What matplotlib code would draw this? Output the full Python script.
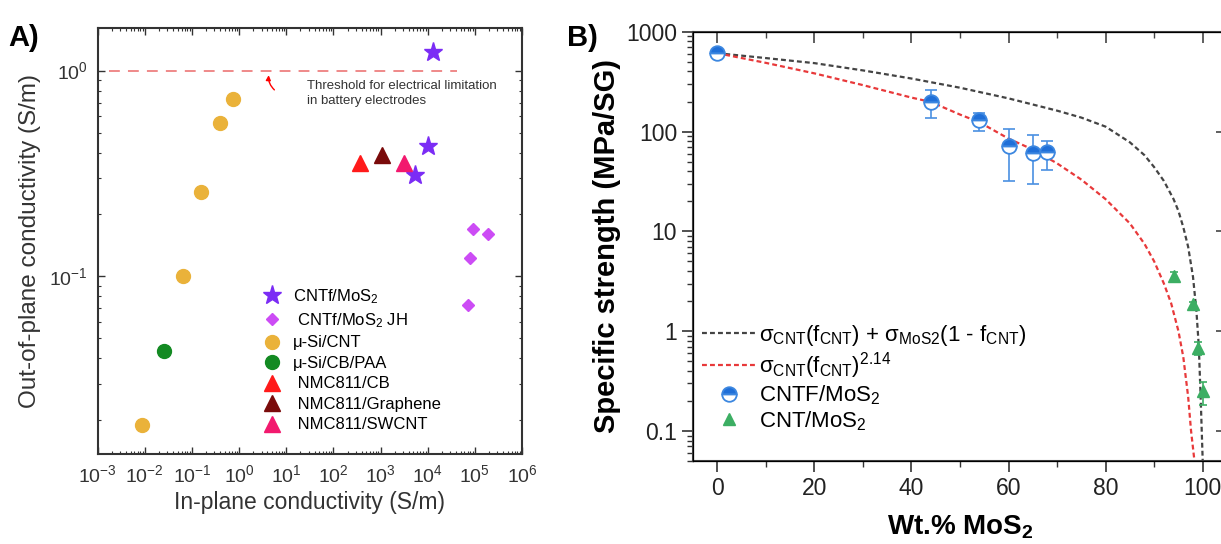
import matplotlib.pyplot as plt
from matplotlib.ticker import LogLocator, NullFormatter, MultipleLocator

plt.rcParams['font.family'] = 'Liberation Sans'
plt.rcParams['mathtext.fontset'] = 'custom'
plt.rcParams['mathtext.rm'] = 'Liberation Sans'
plt.rcParams['mathtext.it'] = 'Liberation Sans:italic'
plt.rcParams['mathtext.bf'] = 'Liberation Sans:bold'
plt.rcParams['mathtext.default'] = 'regular'

# ---- Panel A: conductividades ----
cntf_x = [1.3e4, 1.0e4, 5.5e3]
cntf_y = [1.23, 0.43, 0.31]
cntf_jh_x = [9.0e4, 1.9e5, 8.0e4, 7.0e4]
cntf_jh_y = [0.17, 0.16, 0.123, 0.073]
si_cnt_x = [0.0087, 0.066, 0.157, 0.39, 0.76]
si_cnt_y = [0.019, 0.10, 0.258, 0.555, 0.73]
si_cb_x = [0.025]
si_cb_y = [0.0435]
nmc_cb_x, nmc_cb_y = [370], [0.357]
nmc_gr_x, nmc_gr_y = [1070], [0.39]
nmc_sw_x, nmc_sw_y = [3090], [0.355]
threshold_x = [1.7e-3, 4.2e4]
threshold_y = [1.0, 1.0]

# ---- Panel B: resistencia especifica ----
rule_x = [0, 10, 20, 30, 40, 50, 60, 70, 75, 80, 85, 88, 90, 92, 94, 95, 96, 97, 98, 98.7, 99.2, 99.6, 99.8, 100]
rule_y = [610, 545, 485, 410, 340, 275, 215, 162, 138, 112, 78, 58, 44, 32, 21, 16, 11, 7, 3.5, 1.6, 0.7, 0.2, 0.1, 0.05]
power_x = [0, 10, 20, 30, 40, 44, 50, 54, 60, 65, 70, 75, 80, 85, 88, 90, 92, 93.5, 95, 96, 97, 97.6, 98.3]
power_y = [610, 488, 383, 292, 219, 198, 148, 124, 85, 66, 48, 33, 21, 12, 7.5, 5, 3, 1.9, 1.0, 0.55, 0.22, 0.1, 0.05]
cntf_mos2_x = [0, 44, 54, 60, 65, 68]
cntf_mos2_y = [610, 198, 130, 72, 61, 62]
cntf_mos2_lo = [0, 61, 28, 40, 31, 21]
cntf_mos2_hi = [0, 62, 25, 34, 31, 18]
cnt_mos2_x = [94, 98, 99, 100]
cnt_mos2_y = [3.6, 1.85, 0.68, 0.25]
cnt_mos2_lo = [0.3, 0.12, 0.1, 0.07]
cnt_mos2_hi = [0.3, 0.12, 0.1, 0.06]

fig = plt.figure(figsize=(12.21, 5.44), dpi=100)
axA = fig.add_axes([0.080, 0.1654, 0.3475, 0.783])
axB = fig.add_axes([0.5676, 0.1526, 0.4373, 0.789])

# Panel A
axA.plot(threshold_x, threshold_y, color='#EE8080', lw=1.3, dashes=(6, 4.5))
axA.plot(cntf_x, cntf_y, '*', color='#7B2CF5', ms=14, ls='none', label='CNTf/MoS$_2$')
axA.plot(cntf_jh_x, cntf_jh_y, 'D', color='#CC4CF5', ms=6.5, ls='none', label=' CNTf/MoS$_2$ JH')
axA.plot(si_cnt_x, si_cnt_y, 'o', color='#EAB23A', ms=10, ls='none', label='\u03bc-Si/CNT')
axA.plot(si_cb_x, si_cb_y, 'o', color='#138A22', ms=10, ls='none', label='\u03bc-Si/CB/PAA')
axA.plot(nmc_cb_x, nmc_cb_y, '^', color='#FF1A1A', ms=11, ls='none', label=' NMC811/CB')
axA.plot(nmc_gr_x, nmc_gr_y, '^', color='#7A0A0A', ms=11, ls='none', label=' NMC811/Graphene')
axA.plot(nmc_sw_x, nmc_sw_y, '^', color='#F2196E', ms=11, ls='none', label=' NMC811/SWCNT')

axA.annotate('', xy=(4.3, 0.98), xytext=(6.2, 0.79),
             arrowprops=dict(arrowstyle='-|>', color='red', lw=1.0,
                             mutation_scale=7, connectionstyle='arc3,rad=-0.3'))
axA.text(27, 0.905, 'Threshold for electrical limitation\nin battery electrodes',
         fontsize=9.5, color='#333333', va='top', linespacing=1.35)

axA.set_xscale('log')
axA.set_yscale('log')
axA.set_xlim(1e-3, 1e6)
axA.set_ylim(0.0137, 1.61)
axA.xaxis.set_major_locator(LogLocator(base=10, numticks=12))
axA.xaxis.set_minor_locator(LogLocator(base=10, subs=range(2, 10), numticks=12))
axA.xaxis.set_minor_formatter(NullFormatter())
axA.yaxis.set_minor_formatter(NullFormatter())
axA.tick_params(which='both', direction='in', top=True, right=True, colors='#333333')
axA.tick_params(which='major', length=5, width=1, labelsize=14, pad=7)
axA.tick_params(which='minor', length=2.5, width=0.8)
for s in axA.spines.values():
    s.set_linewidth(1.5)
    s.set_color('#333333')
axA.set_xlabel('In-plane conductivity (S/m)', fontsize=16.5, color='#333333', labelpad=4)
axA.set_ylabel('Out-of-plane conductivity (S/m)', fontsize=17.5, color='#333333', labelpad=6)
axA.legend(loc='lower left', bbox_to_anchor=(0.375, 0.035), frameon=False, fontsize=12,
           handlelength=1.0, handletextpad=0.75, labelspacing=0.33, borderaxespad=0)

# Panel B
axB.plot(rule_x, rule_y, color='#444444', lw=1.6, dashes=(2.2, 1.4),
         label='\u03c3$_{CNT}$(f$_{CNT}$) + \u03c3$_{MoS2}$(1 - f$_{CNT}$)')
axB.plot(power_x, power_y, color='#E8393A', lw=1.6, dashes=(2.2, 1.4),
         label='\u03c3$_{CNT}$(f$_{CNT}$)$^{2.14}$')
axB.errorbar(cntf_mos2_x, cntf_mos2_y, yerr=[cntf_mos2_lo, cntf_mos2_hi], fmt='none',
             ecolor='#4A90E2', elinewidth=1.2, capsize=4, capthick=1.2)
axB.errorbar(cnt_mos2_x, cnt_mos2_y, yerr=[cnt_mos2_lo, cnt_mos2_hi], fmt='none',
             ecolor='#3CAE63', elinewidth=1.2, capsize=3, capthick=1.2)
axB.plot(cntf_mos2_x, cntf_mos2_y, 'o', ls='none', ms=10.5, fillstyle='top',
         markerfacecolor='#1F6FD8', markerfacecoloralt='white', markeredgecolor='#3C87E0',
         markeredgewidth=1.3, label='CNTF/MoS$_2$')
axB.plot(cnt_mos2_x, cnt_mos2_y, '^', ls='none', ms=8, color='#3CAE63', label='CNT/MoS$_2$')

axB.set_yscale('log')
axB.set_xlim(-5, 105)
axB.set_ylim(0.05, 1000)
axB.set_xticks([0, 20, 40, 60, 80, 100])
axB.xaxis.set_minor_locator(MultipleLocator(10))
axB.set_yticks([0.1, 1, 10, 100, 1000], ['0.1', '1', '10', '100', '1000'])
axB.yaxis.set_minor_locator(LogLocator(base=10, subs=range(2, 10), numticks=12))
axB.yaxis.set_minor_formatter(NullFormatter())
axB.tick_params(which='both', direction='out', colors='#333333')
axB.tick_params(which='major', length=8, width=1.2, labelsize=16.5, labelcolor='#222222')
axB.tick_params(which='minor', length=4, width=1)
for s in axB.spines.values():
    s.set_linewidth(1.5)
    s.set_color('#444444')

# ticks hacia dentro arriba y a la derecha
topB = axB.twiny()
topB.set_xlim(axB.get_xlim())
topB.set_xticks([0, 20, 40, 60, 80, 100])
topB.xaxis.set_minor_locator(MultipleLocator(10))
topB.tick_params(which='both', direction='in', labeltop=False, colors='#444444')
topB.tick_params(which='major', length=8, width=1.2)
topB.tick_params(which='minor', length=4, width=1)
rightB = axB.twinx()
rightB.set_yscale('log')
rightB.set_ylim(axB.get_ylim())
rightB.set_yticks([0.1, 1, 10, 100, 1000])
rightB.yaxis.set_minor_locator(plt.NullLocator())
rightB.tick_params(which='both', direction='in', labelright=False, colors='#444444',
                   length=8, width=1.2)

axB.set_xlabel('Wt.% MoS$_2$', fontsize=20, fontweight='bold', labelpad=10)
axB.set_ylabel('Specific strength (MPa/SG)', fontsize=21, fontweight='bold', labelpad=4)
axB.legend(loc='lower left', bbox_to_anchor=(0.0, 0.045), frameon=False, fontsize=16,
           handlelength=2.4, handletextpad=0.15, labelspacing=0.1, borderaxespad=0)

fig.text(0.007, 0.955, 'A)', fontsize=21, fontweight='bold', va='top')
fig.text(0.464, 0.955, 'B)', fontsize=21, fontweight='bold', va='top')

plt.savefig('out.png', dpi=100)
plt.close()
